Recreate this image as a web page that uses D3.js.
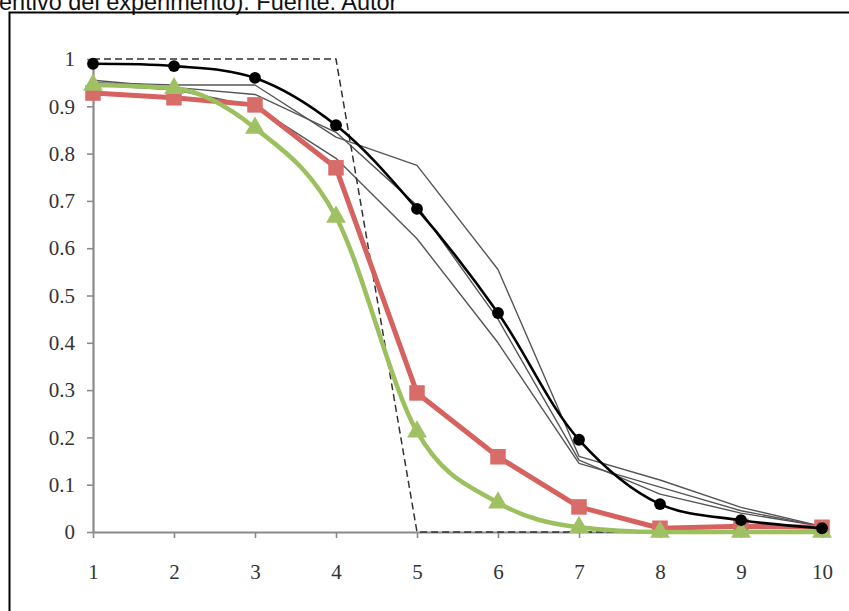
<!DOCTYPE html>
<html>
<head>
<meta charset="utf-8">
<script src="https://cdn.jsdelivr.net/npm/d3@7"></script>
<style>
    body { margin: 0; background: #fff; }
    .tick text { font-family: "Liberation Serif", "Times New Roman", serif; font-size: 21px; fill: #333; }
</style>
</head>
<body>
<div id="chartContainer"></div>
<script>
/***** Data */

const steps = [1, 2, 3, 4, 5, 6, 7, 8, 9, 10];
const yTicks = [0, 0.1, 0.2, 0.3, 0.4, 0.5, 0.6, 0.7, 0.8, 0.9, 1];

// ideal step (dashed)
const ideal = [1, 1, 1, 1, 0, 0, 0, 0, 0, 0];
// thin grey runs
const runA = [0.95, 0.945, 0.945, 0.835, 0.775, 0.555, 0.16, 0.11, 0.052, 0.012];
const runB = [0.955, 0.94, 0.925, 0.845, 0.69, 0.45, 0.152, 0.08, 0.04, 0.012];
const runC = [0.945, 0.935, 0.9, 0.79, 0.62, 0.4, 0.145, 0.095, 0.045, 0.012];
// marked series
const blackCircles = [0.99, 0.985, 0.96, 0.86, 0.683, 0.463, 0.195, 0.059, 0.025, 0.008];
const redSquares = [0.928, 0.918, 0.903, 0.77, 0.294, 0.159, 0.053, 0.008, 0.012, 0.01];
const greenTriangles = [0.945, 0.938, 0.854, 0.666, 0.212, 0.062, 0.01, 0, 0, 0];

/***** Drawing */

const width = 849;
const height = 611;

const svg = d3.select('#chartContainer').append('svg')
    .attr('width', width)
    .attr('height', height);

svg.append('rect')
    .attr('width', width)
    .attr('height', height)
    .attr('fill', '#fff');

// caption fragment, cut off at the top as in the source
svg.append('text')
    .attr('x', -1)
    .attr('y', 10)
    .attr('font-family', '"Liberation Sans", Arial, sans-serif')
    .attr('font-size', 23.5)
    .attr('fill', '#111')
    .text('entivo del experimento). Fuente: Autor');

// frame (left and top edges visible)
svg.append('path')
    .attr('d', `M9.5,${height} L9.5,12.5 L${width},12.5`)
    .attr('fill', 'none')
    .attr('stroke', '#000')
    .attr('stroke-width', 2);

const x = d3.scaleLinear().domain([1, 10]).range([93, 822]);
const y = d3.scaleLinear().domain([0, 1]).range([532, 59]);

const yAxis = svg.append('g')
    .attr('transform', `translate(${x(1)},0)`)
    .call(d3.axisLeft(y).tickValues(yTicks).tickSize(6).tickSizeOuter(0).tickPadding(12)
        .tickFormat(d => d === 0 || d === 1 ? d3.format('d')(d) : d3.format('.1f')(d)));

const xAxis = svg.append('g')
    .attr('transform', `translate(0,${y(0)})`)
    .call(d3.axisBottom(x).tickValues(steps).tickSize(6).tickSizeOuter(0).tickPadding(26)
        .tickFormat(d3.format('d')));

[yAxis, xAxis].forEach(axis => {
    axis.select('.domain').attr('stroke', '#8a8a8a').attr('stroke-width', 2.2);
    axis.selectAll('.tick line').attr('stroke', '#8a8a8a').attr('stroke-width', 1.6);
});

const plot = svg.append('g');

const drawLine = (values, curve, stroke, strokeWidth, dash) => {
    const line = d3.line()
        .x((v, i) => x(steps[i]))
        .y(v => y(v))
        .curve(curve);
    plot.append('path')
        .datum(values)
        .attr('d', line)
        .attr('fill', 'none')
        .attr('stroke', stroke)
        .attr('stroke-width', strokeWidth)
        .attr('stroke-linejoin', 'round')
        .attr('stroke-dasharray', dash || null);
};

const drawMarkers = (values, symbolType, size, fill) => {
    plot.append('g').selectAll('path')
        .data(values)
        .enter()
        .append('path')
        .attr('transform', (v, i) => `translate(${x(steps[i])},${y(v)})`)
        .attr('d', d3.symbol().type(symbolType).size(size))
        .attr('fill', fill);
};

[runA, runB, runC].forEach(run => drawLine(run, d3.curveLinear, '#555', 1.4));

drawLine(ideal, d3.curveLinear, '#333', 1.5, '7,4');

drawLine(redSquares, d3.curveLinear, '#d6625f', 5);
drawMarkers(redSquares, d3.symbolSquare, 240, '#d86c69');

drawLine(greenTriangles, d3.curveMonotoneX, '#9cc05e', 4.5);
drawMarkers(greenTriangles, d3.symbolTriangle, 170, '#9fc163');

drawLine(blackCircles, d3.curveCatmullRom, '#000', 2.6);
drawMarkers(blackCircles, d3.symbolCircle, 110, '#000');
</script>
</body>
</html>
